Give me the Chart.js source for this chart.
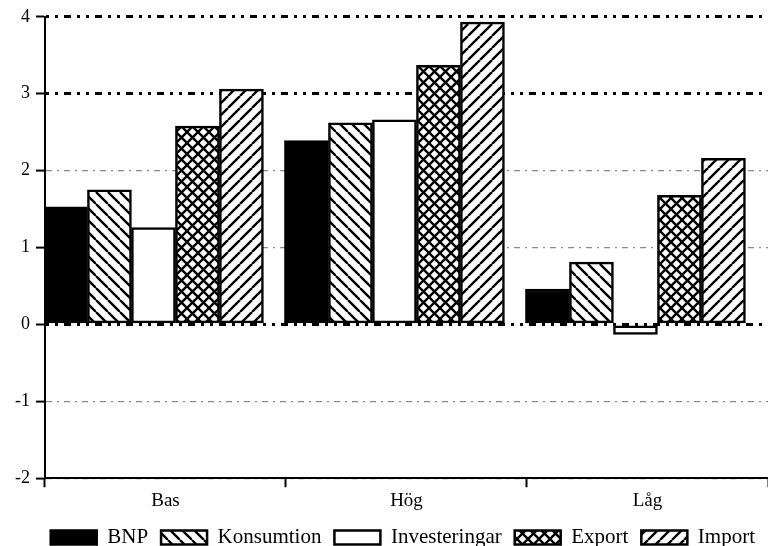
<!DOCTYPE html>
<html>
<head>
<meta charset="utf-8">
<script src="https://cdn.jsdelivr.net/npm/chart.js@4/dist/chart.umd.min.js"></script>
<style>
  html, body { margin: 0; background: #fff; }
  #wrap { width: 768px; height: 546px; }
</style>
</head>
<body>
<div id="wrap"><canvas id="c"></canvas></div>
<script>
// kategorier och serier
const categories = ['Bas', 'Hög', 'Låg'];
const bnp = [1.53, 2.39, 0.46];
const konsumtion = [1.75, 2.62, 0.81];
const investeringar = [1.26, 2.66, -0.13];
const exportVals = [2.58, 3.37, 1.68];
const importVals = [3.06, 3.93, 2.16];
const yTicks = [-2, -1, 0, 1, 2, 3, 4];
const heavyLines = [0, 3, 4];

// gruppen ligger förskjuten åt vänster i kategorin
const groupShift = 0.05;

Chart.defaults.font.family = "'Liberation Serif', 'Times New Roman', serif";
Chart.defaults.color = '#000';

function hatch(size, dirs) {
  const c = document.createElement('canvas');
  c.width = c.height = size;
  const g = c.getContext('2d');
  g.fillStyle = '#fff';
  g.fillRect(0, 0, size, size);
  g.strokeStyle = '#000';
  g.lineWidth = 2.4;
  dirs.forEach(d => {
    for (let k = -1; k <= 1; k++) {
      g.beginPath();
      if (d === '\\') { g.moveTo(k * size, 0); g.lineTo(k * size + size, size); }
      else { g.moveTo(k * size, size); g.lineTo(k * size + size, 0); }
      g.stroke();
    }
  });
  return g.createPattern(c, 'repeat');
}

const toPoints = arr => arr.map((v, i) => ({ x: i, y: v }));

const barStyle = {
  xAxisID: 'x2',
  borderColor: '#000',
  borderWidth: 2.5,
  borderSkipped: false,
  barThickness: 44
};

const ctx = document.getElementById('c').getContext('2d');
new Chart(ctx, {
  type: 'bar',
  data: {
    labels: categories,
    datasets: [
      { label: 'BNP', data: toPoints(bnp), backgroundColor: '#000', ...barStyle },
      { label: 'Konsumtion', data: toPoints(konsumtion), backgroundColor: hatch(12, ['\\']), ...barStyle },
      { label: 'Investeringar', data: toPoints(investeringar), backgroundColor: '#fff', ...barStyle },
      { label: 'Export', data: toPoints(exportVals), backgroundColor: hatch(11, ['\\', '/']), ...barStyle },
      { label: 'Import', data: toPoints(importVals), backgroundColor: hatch(12, ['/']), ...barStyle }
    ]
  },
  options: {
    responsive: true,
    maintainAspectRatio: false,
    animation: false,
    layout: { padding: { left: 9, top: 8, right: 0, bottom: -12 } },
    plugins: {
      tooltip: { enabled: false },
      legend: {
        position: 'bottom',
        align: 'end',
        labels: { boxWidth: 46, boxHeight: 14, padding: 13, font: { size: 21 }, color: '#000' }
      }
    },
    scales: {
      x: {
        type: 'category',
        offset: true,
        grid: { offset: true, drawOnChartArea: false, tickLength: 9, tickColor: '#000', tickWidth: 2 },
        border: { color: '#000', width: 2 },
        ticks: { font: { size: 19 }, color: '#000', padding: 2 }
      },
      x2: {
        type: 'linear',
        display: false,
        offset: false,
        bounds: 'data',
        grid: { offset: false },
        min: -0.5 + groupShift,
        max: categories.length - 0.5 + groupShift,
        ticks: { stepSize: 1, includeBounds: false }
      },
      y: {
        min: yTicks[0],
        max: yTicks[yTicks.length - 1],
        ticks: { stepSize: 1, font: { size: 18 }, color: '#000', padding: 6 },
        grid: {
          color: c => heavyLines.includes(c.tick.value) ? '#000' : '#8a8a8a',
          lineWidth: c => heavyLines.includes(c.tick.value) ? 3 : 1.2,
          tickLength: 9, tickColor: '#000', tickWidth: 2
        },
        border: {
          color: '#000', width: 2,
          dash: c => heavyLines.includes(c.tick && c.tick.value) ? [3, 6, 3, 6, 7, 6] : [6, 5, 2, 5]
        }
      }
    }
  }
});
</script>
</body>
</html>
